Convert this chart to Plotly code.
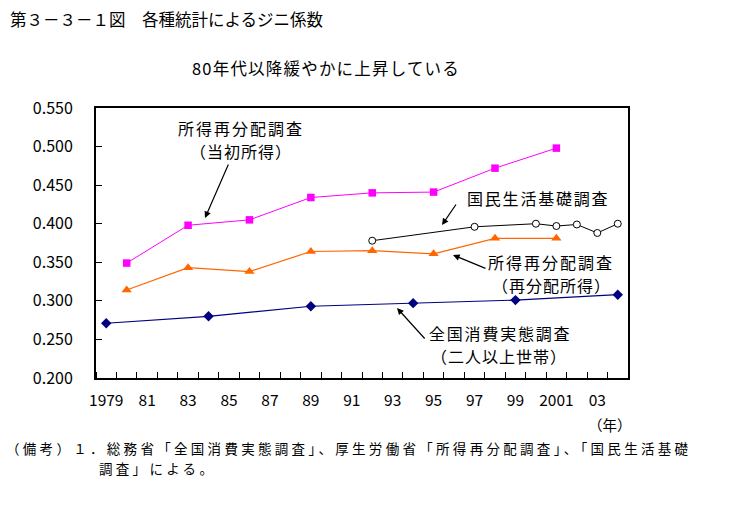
import plotly.graph_objects as go

# ---- data ----
years_initial = [1980, 1983, 1986, 1989, 1992, 1995, 1998, 2001]
gini_initial = [0.349, 0.398, 0.405, 0.434, 0.440, 0.441, 0.472, 0.498]

years_redist = [1980, 1983, 1986, 1989, 1992, 1995, 1998, 2001]
gini_redist = [0.314, 0.343, 0.338, 0.364, 0.365, 0.361, 0.381, 0.381]

years_kokumin = [1992, 1997, 2000, 2001, 2002, 2003, 2004]
gini_kokumin = [0.378, 0.396, 0.400, 0.397, 0.399, 0.388, 0.400]

years_zenkoku = [1979, 1984, 1989, 1994, 1999, 2004]
gini_zenkoku = [0.271, 0.280, 0.293, 0.297, 0.301, 0.308]

x_tick_years = [1979, 1981, 1983, 1985, 1987, 1989, 1991, 1993, 1995, 1997, 1999, 2001, 2003]
x_tick_text = ["1979", "81", "83", "85", "87", "89", "91", "93", "95", "97", "99", "2001", "03"]

FONT = "Noto Sans CJK JP"
W, H = 734, 520
PL, PR, PT, PB = 96, 628, 108, 378  # plot area in pixels


def fx(px):
    return (px - PL) / (PR - PL)


def fy(py):
    return (PB - py) / (PB - PT)


fig = go.Figure()

fig.add_trace(go.Scatter(
    x=years_initial, y=gini_initial, mode="lines+markers",
    line=dict(color="#FF00FF", width=1),
    marker=dict(symbol="square", size=7.5, color="#FF00FF"),
    cliponaxis=False))
fig.add_trace(go.Scatter(
    x=years_redist, y=gini_redist, mode="lines+markers",
    line=dict(color="#FF6600", width=1.2),
    marker=dict(symbol="triangle-up", size=9, color="#FF6600"),
    cliponaxis=False))
fig.add_trace(go.Scatter(
    x=years_kokumin, y=gini_kokumin, mode="lines+markers",
    line=dict(color="#000000", width=1),
    marker=dict(symbol="circle", size=7, color="white",
                line=dict(color="black", width=1)),
    cliponaxis=False))
fig.add_trace(go.Scatter(
    x=years_zenkoku, y=gini_zenkoku, mode="lines+markers",
    line=dict(color="#000080", width=1.2),
    marker=dict(symbol="diamond", size=8, color="#000080"),
    cliponaxis=False))

ann = []


def text_ann(px, py, text, size=16, xanchor="center", ls=0.0):
    if ls:
        text = '<span style="letter-spacing:%.2fpx">%s</span>' % (ls, text)
    ann.append(dict(x=fx(px), y=fy(py), xref="paper", yref="paper", text=text,
                    showarrow=False, xanchor=xanchor, yanchor="middle",
                    font=dict(family=FONT, size=size, color="black")))


def arrow_ann(hx, hy, tx, ty):
    ann.append(dict(x=fx(hx), y=fy(hy), xref="paper", yref="paper", text="",
                    showarrow=True, ax=tx - hx, ay=ty - hy,
                    arrowhead=2, arrowsize=1.1, arrowwidth=1.2, arrowcolor="black",
                    standoff=0, startstandoff=0))


text_ann(8, 19, "第３－３－１図　各種統計によるジニ係数", size=16.5, xanchor="left")
text_ann(326, 68, "80年代以降緩やかに上昇している", size=16.5, ls=1.2)

text_ann(241, 128, "所得再分配調査", ls=2)
text_ann(241, 151, "（当初所得）", ls=1)
arrow_ann(205, 218, 229, 163)
text_ann(538, 198, "国民生活基礎調査", ls=1.8)
arrow_ann(442, 225, 457, 203)
text_ann(551, 262, "所得再分配調査", ls=2)
text_ann(551, 285, "（再分配所得）", ls=1)
arrow_ann(453, 255, 487, 269)
text_ann(500, 333, "全国消費実態調査", ls=1.8)
text_ann(499, 356, "（二人以上世帯）", ls=1)
arrow_ann(397, 308, 426, 340)

text_ann(610, 424, "（年）", size=14.5)
text_ann(4, 448, "（備考）１．総務省「全国消費実態調査」、厚生労働省「所得再分配調査」、「国民生活基礎",
         size=13.5, xanchor="left", ls=3.3)
text_ann(97, 468, "調査」による。", size=13.5, xanchor="left", ls=3.3)

fig.update_layout(
    width=W, height=H,
    margin=dict(l=PL, r=W - PR, t=PT, b=H - PB, pad=0),
    paper_bgcolor="white", plot_bgcolor="white",
    showlegend=False,
    font=dict(family=FONT, size=16, color="black"),
    annotations=ann,
    xaxis=dict(
        range=[1978.5, 2004.5], tickmode="array",
        tickvals=x_tick_years, ticktext=x_tick_text,
        ticks="", showgrid=False, zeroline=False,
        showline=True, linecolor="black", linewidth=2, mirror=True,
        ticklabelstandoff=7,
        tickfont=dict(family=FONT, size=15.5, color="black"),
        minor=dict(ticks="inside", ticklen=6, tickwidth=1, tickcolor="black",
                   tickmode="linear", tick0=1978.5, dtick=1, showgrid=False),
    ),
    yaxis=dict(
        range=[0.2, 0.55], tickmode="linear", tick0=0.2, dtick=0.05,
        tickformat=".3f", ticks="inside", ticklen=6, tickwidth=1, tickcolor="black",
        showgrid=False, zeroline=False,
        showline=True, linecolor="black", linewidth=2, mirror=True,
        ticklabelstandoff=18,
        tickfont=dict(family=FONT, size=16, color="black"),
    ),
)

fig.write_html("out.html")
